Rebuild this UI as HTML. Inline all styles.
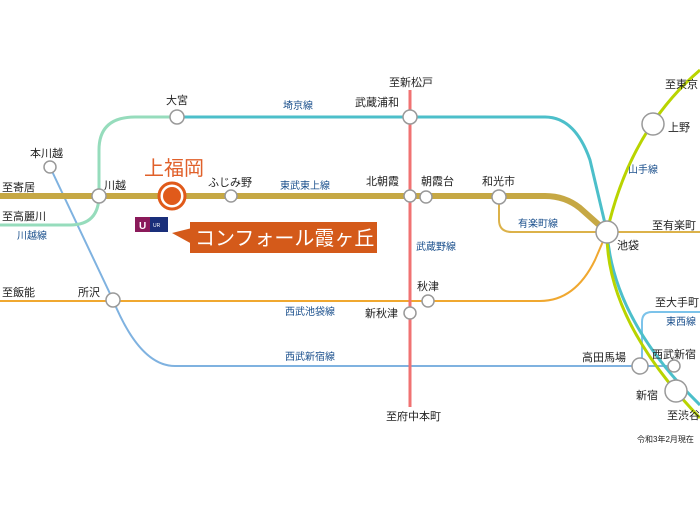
<!DOCTYPE html>
<html><head><meta charset="utf-8"><style>
body{margin:0;background:#fff}
svg{display:block}
text{font-family:"Liberation Sans","Noto Sans CJK JP",sans-serif;font-size:11px;fill:#222}
.b{fill:#1a4f8c;font-size:10px}
</style></head><body>
<svg width="700" height="525" viewBox="0 0 700 525">
<!-- Seibu Shinjuku -->
<path d="M50,167 L113,300 Q140,366 175,366 L672,366" fill="none" stroke="#7fb2e0" stroke-width="2"/>
<!-- Tozai -->
<path d="M700,312 L652,312 Q642,312 642,322 L642,366" fill="none" stroke="#7cc3ea" stroke-width="2"/>
<!-- Seibu Ikebukuro -->
<path d="M0,301 L540,301 Q575,301 595,260 L607,232" fill="none" stroke="#f0a830" stroke-width="2"/>
<!-- Yurakucho -->
<path d="M499,197 L499,220 Q499,232 512,232 L700,232" fill="none" stroke="#dcb24a" stroke-width="2"/>
<!-- Saikyo -->
<path d="M0,225 L70,225 Q99,225 99,195 L99,150 Q99,117 135,117 L177,117" fill="none" stroke="#96dcbc" stroke-width="3"/>
<path d="M177,117 L545,117 Q575,117 590,160 L607,232 Q613,320 700,405" fill="none" stroke="#4cbfca" stroke-width="3"/>
<!-- Yamanote -->
<path d="M700,70 Q630,130 607,232 Q606,320 700,418" fill="none" stroke="#b9d400" stroke-width="3"/>
<!-- Musashino -->
<line x1="410" y1="90" x2="410" y2="407" stroke="#f07272" stroke-width="3"/>
<!-- Tojo -->
<path d="M0,196 L545,196 Q565,196 580,208 L607,232" fill="none" stroke="#c6a844" stroke-width="6"/>
<!-- stations -->
<g fill="#fff" stroke="#999" stroke-width="1.5">
<circle cx="50" cy="167" r="6"/><circle cx="177" cy="117" r="7"/><circle cx="410" cy="117" r="7"/>
<circle cx="99" cy="196" r="7"/><circle cx="231" cy="196" r="6"/><circle cx="410" cy="196" r="6"/>
<circle cx="426" cy="197" r="6"/><circle cx="499" cy="197" r="7"/><circle cx="607" cy="232" r="11"/>
<circle cx="653" cy="124" r="11"/><circle cx="113" cy="300" r="7"/><circle cx="428" cy="301" r="6"/>
<circle cx="410" cy="313" r="6"/><circle cx="640" cy="366" r="8"/><circle cx="674" cy="366" r="6"/>
<circle cx="676" cy="391" r="11"/>
</g>
<circle cx="172" cy="196" r="13" fill="#fff" stroke="#e05a1a" stroke-width="3"/>
<circle cx="172" cy="196" r="9" fill="#e05a1a"/>
<text x="144" y="175" style="font-size:20px;fill:#e0602a">上福岡</text>
<!-- UR logo -->
<rect x="135" y="217" width="15" height="15" fill="#8a1a5a"/><rect x="150" y="217" width="18" height="15" fill="#1a2f7a"/>
<text x="139" y="229" style="font-size:10px;fill:#fff;font-weight:bold">U</text>
<text x="153" y="227" style="font-size:5px;fill:#fff">UR</text>
<!-- callout -->
<polygon points="172,233 192,228 192,244" fill="#d45a1a"/>
<rect x="190" y="222" width="187" height="31" fill="#d45a1a"/>
<text x="195" y="245" style="font-size:20px;fill:#fff">コンフォール霞ヶ丘</text>
<!-- labels -->
<text x="30" y="157">本川越</text><text x="166" y="104">大宮</text><text x="104" y="189">川越</text>
<text x="208" y="186">ふじみ野</text><text x="355" y="106">武蔵浦和</text><text x="389" y="86">至新松戸</text>
<text x="366" y="185">北朝霞</text><text x="421" y="185">朝霞台</text><text x="482" y="185">和光市</text>
<text x="665" y="88">至東京</text><text x="668" y="131">上野</text><text x="617" y="249">池袋</text>
<text x="652" y="229">至有楽町</text><text x="2" y="191">至寄居</text><text x="2" y="220">至高麗川</text>
<text x="2" y="296">至飯能</text><text x="78" y="296">所沢</text><text x="417" y="290">秋津</text>
<text x="365" y="317">新秋津</text><text x="655" y="306">至大手町</text><text x="652" y="358">西武新宿</text>
<text x="582" y="361">高田馬場</text><text x="636" y="399">新宿</text><text x="667" y="419">至渋谷</text>
<text x="386" y="420">至府中本町</text>
<text x="637" y="442" style="font-size:8px">令和3年2月現在</text>
<text class="b" x="17" y="239">川越線</text><text class="b" x="283" y="109">埼京線</text>
<text class="b" x="280" y="189">東武東上線</text><text class="b" x="628" y="173">山手線</text>
<text class="b" x="518" y="227">有楽町線</text><text class="b" x="416" y="250">武蔵野線</text>
<text class="b" x="285" y="315">西武池袋線</text><text class="b" x="285" y="360">西武新宿線</text>
<text class="b" x="666" y="325">東西線</text>
</svg>
</body></html>
